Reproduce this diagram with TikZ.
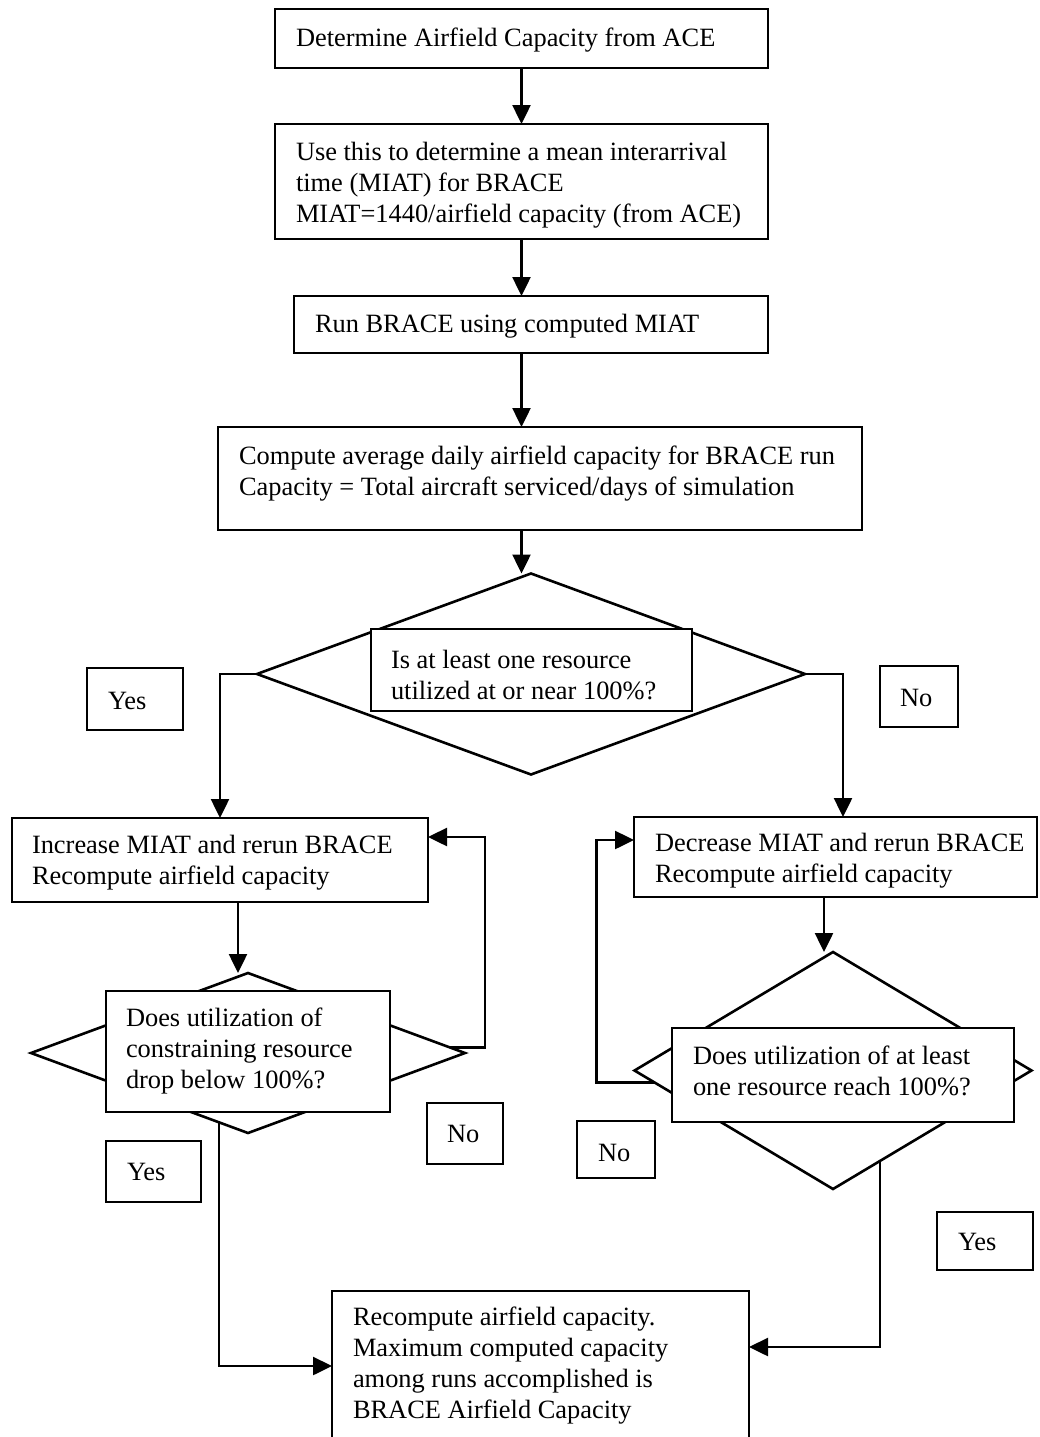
\documentclass[tikz,border=0pt]{standalone}
\usepackage{fontspec}
\setmainfont{Liberation Serif}
\usetikzlibrary{shapes.geometric,arrows.meta,calc}
\begin{document}
\begin{tikzpicture}[x=1pt,y=-1pt,
  every node/.style={outer sep=0pt},
  box/.style={draw, line width=2.6pt, fill=white, inner sep=0pt},
  txt/.style={font=\fontsize{26.4}{31}\selectfont, align=left, inner sep=0pt, anchor=west, yshift=-2.5pt},
  dia/.style={draw, diamond, line width=2.6pt, inner sep=0pt},
  arr/.style={line width=2.5pt, -{Triangle[length=19pt,width=18pt]}}]
\useasboundingbox (0,0) rectangle (1040,1437);
% decision diamonds
\node[dia, minimum width=548pt, minimum height=201pt] (d1) at (531,674) {};
\node[dia, minimum width=434pt, minimum height=160pt] (d2) at (248,1053) {};
\node[dia, minimum width=397pt, minimum height=237pt] (d3) at (833,1070.5) {};
% boxes
\node[box, minimum width=493pt, minimum height=59pt] (b1) at (521.5,38.5) {};
\node[box, minimum width=493pt, minimum height=115pt] (b2) at (521.5,181.5) {};
\node[box, minimum width=474pt, minimum height=57pt] (b3) at (531,324.5) {};
\node[box, minimum width=644pt, minimum height=103pt] (b4) at (540,478.5) {};
\node[box, minimum width=321pt, minimum height=82pt] (i1) at (531.5,670) {};
\node[box, minimum width=96pt, minimum height=62pt] (y1) at (135,699) {};
\node[box, minimum width=78pt, minimum height=61pt] (n1) at (919,696.5) {};
\node[box, minimum width=416pt, minimum height=84pt] (b5) at (220,860) {};
\node[box, minimum width=403pt, minimum height=80pt] (b6) at (835.5,857) {};
\node[box, minimum width=284pt, minimum height=121pt] (i2) at (248,1051.5) {};
\node[box, minimum width=76pt, minimum height=61pt] (n2) at (465,1133.5) {};
\node[box, minimum width=95pt, minimum height=61pt] (y2) at (153.5,1171.5) {};
\node[box, minimum width=342pt, minimum height=94pt] (i3) at (843,1075) {};
\node[box, minimum width=78pt, minimum height=57pt] (n3) at (616,1149.5) {};
\node[box, minimum width=96pt, minimum height=58pt] (y3) at (985,1241) {};
\node[box, minimum width=417pt, minimum height=159pt] (b7) at (540.5,1370.5) {};
% texts
\node[txt] (t1) at (296,38) {Determine Airfield Capacity from ACE};
\node[txt] (t2) at (296,182.5) {Use this to determine a mean interarrival\\time (MIAT) for BRACE\\MIAT=1440/airfield capacity (from ACE)};
\node[txt] (t3) at (315,324) {Run BRACE using computed MIAT};
\node[txt] (t4) at (239,471) {Compute average daily airfield capacity for BRACE run\\Capacity = Total aircraft serviced/days of simulation};
\node[txt] (ti1) at (391,672.5) {Is at least one resource\\utilized at or near 100\%?};
\node[txt] (ty1) at (108,698) {Yes};
\node[txt] (tn1) at (900,695) {No};
\node[txt] (t5) at (32,860) {Increase MIAT and rerun BRACE\\Recompute airfield capacity};
\node[txt] (t6) at (655,858) {Decrease MIAT and rerun BRACE\\Recompute airfield capacity};
\node[txt] (ti2) at (126,1048.5) {Does utilization of\\constraining resource\\drop below 100\%?};
\node[txt] (tn2) at (447,1131) {No};
\node[txt] (ty2) at (127,1169) {Yes};
\node[txt] (ti3) at (693,1068) {Does utilization of at least\\one resource reach 100\%?};
\node[txt] (tn3) at (598,1150) {No};
\node[txt] (ty3) at (958,1239) {Yes};
\node[txt] (t7) at (353,1363) {Recompute airfield capacity.\\Maximum computed capacity\\among runs accomplished is\\BRACE Airfield Capacity};
% connectors
\draw[arr] (b1.south) -- (b2.north);
\draw[arr] (b2.south) -- (b2.south |- b3.north);
\draw[arr] (b2.south |- b3.south) -- (b2.south |- b4.north);
\draw[arr] (b2.south |- b4.south) -- (b2.south |- d1.north);
\draw[arr] (d1.west) -| (b5.north);
\draw[arr] (d1.east) -| ([xshift=7.5pt]b6.north);
\draw[arr] ([xshift=18pt]b5.south) -- ([xshift=18pt]b5.south |- d2.north);
\draw[arr] ($(d2.north)!0.93!(d2.east)$) -- ++(35,0) |- ([yshift=23pt]b5.east);
\draw[arr] ($(d2.west)!0.866!(d2.south)$) |- ([yshift=4.5pt]b7.west);
\draw[arr] ([xshift=-11.5pt]b6.south) -- ([xshift=-11.5pt]b6.south |- d3.north);
\draw[arr] ($(d3.west)!0.1!(d3.south)$) -- ++(-58,0) |- ([yshift=17pt]b6.west);
\draw[arr] ($(d3.east)!0.764!(d3.south)$) |- ([yshift=23.5pt]b7.east);
\end{tikzpicture}
\end{document}
